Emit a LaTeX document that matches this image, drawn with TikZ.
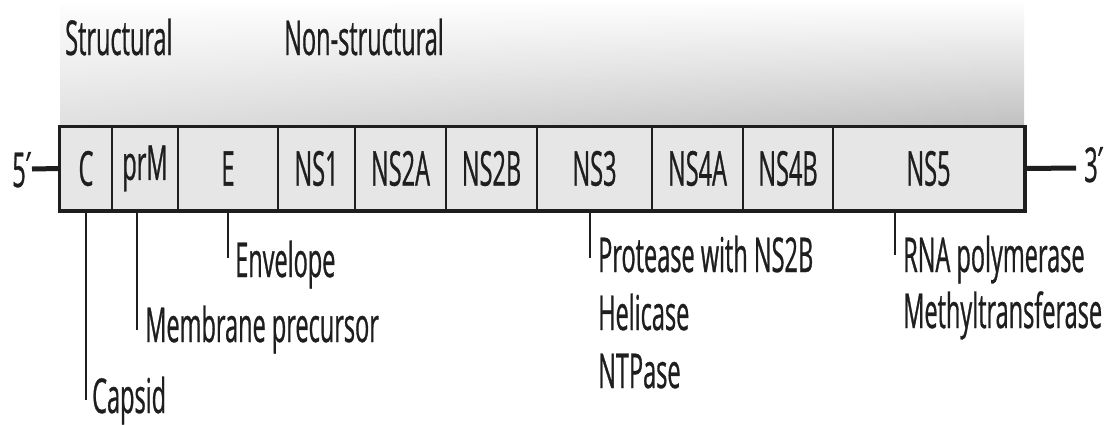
\documentclass[tikz,border=0pt]{standalone}
\usepackage{fontspec}
\setmainfont{Open Sans}[FakeStretch=0.49, FakeBold=0.6]
\newfontfamily\primefont{DejaVu Sans}[FakeStretch=0.55, FakeBold=0.6]
\usetikzlibrary{fadings}
\definecolor{ink}{HTML}{1E1E1E}
\definecolor{cellfill}{HTML}{E6E6E6}
\definecolor{bandgray}{HTML}{C0C0C0}
\begin{document}
\begin{tikzpicture}[x=1pt,y=-1pt,
  txt/.style={font=\fontsize{48}{56}\selectfont, text=ink, inner sep=0pt},
  cell/.style={draw=ink, line width=2pt, fill=cellfill, minimum height=83pt, inner sep=0pt, txt},
  leader/.style={draw=ink, line width=2pt},
  wire/.style={draw=ink, line width=5pt},
  lbl/.style={txt, anchor=base west}]
% canvas
\path[use as bounding box, fill=white] (0,0) rectangle (1111,424);
% gray gradient band
\shade[top color=white, bottom color=bandgray, middle color=black!12] (60,0) rectangle (1024,127);
\fill[white, opacity=0.5, path fading=east] (60,0) rectangle (1024,127);
% genome cells
\foreach \l/\r/\t/\n in {60/112/C/cC, 112/178/prM/cprM, 178/278/E/cE, 278/355/NS1/cNSone,
  355/446/NS2A/cNStwoA, 446/537/NS2B/cNStwoB, 537/652/NS3/cNSthree, 652/743/NS4A/cNSfourA,
  743/833/NS4B/cNSfourB, 833/1024/NS5/cNSfive}
  \node[cell, minimum width={(\r-\l)*1pt}] (\n) at ({(\l+\r)/2},168.5) {\t};
\draw[ink, line width=3pt] (cC.north west) rectangle (cNSfive.south east);
% ends
\coordinate (w5) at (32,169);
\coordinate (w3) at (1076,168);
\draw[wire] (w5) -- (cC.west);
\draw[wire] (cNSfive.east) -- (w3);
\node[txt, anchor=base] (five) at (22,187) {5{\primefont ′}};
\node[txt, anchor=base] (three) at (1094,182) {3{\primefont ′}};
% top labels
\node[lbl] (structural) at (65,55) {Structural};
\node[lbl] (nonstructural) at (284,55) {Non-structural};
% leaders and labels
\coordinate (capL) at (86,400);
\draw[leader] (cC.south) -- (capL);
\node[lbl] (capsid) at (92,413) {Capsid};
\coordinate (memL) at (137,330);
\draw[leader] (cprM.south -| memL) -- (memL);
\node[lbl] (membrane) at (145,342) {Membrane precursor};
\coordinate (envL) at (228,258);
\draw[leader] (cE.south) -- (envL);
\node[lbl] (envelope) at (235,277) {Envelope};
\coordinate (ns3L) at (590,258);
\draw[leader] (cNSthree.south -| ns3L) -- (ns3L);
\node[lbl] (protease) at (598,272) {Protease with NS2B};
\node[lbl] (helicase) at (598,330) {Helicase};
\node[lbl] (ntpase) at (598,388) {NTPase};
\coordinate (ns5L) at (895,255);
\draw[leader] (cNSfive.south -| ns5L) -- (ns5L);
\node[lbl] (rnapol) at (903,272) {RNA polymerase};
\node[lbl] (methyl) at (903,328) {Methyltransferase};
\end{tikzpicture}
\end{document}
